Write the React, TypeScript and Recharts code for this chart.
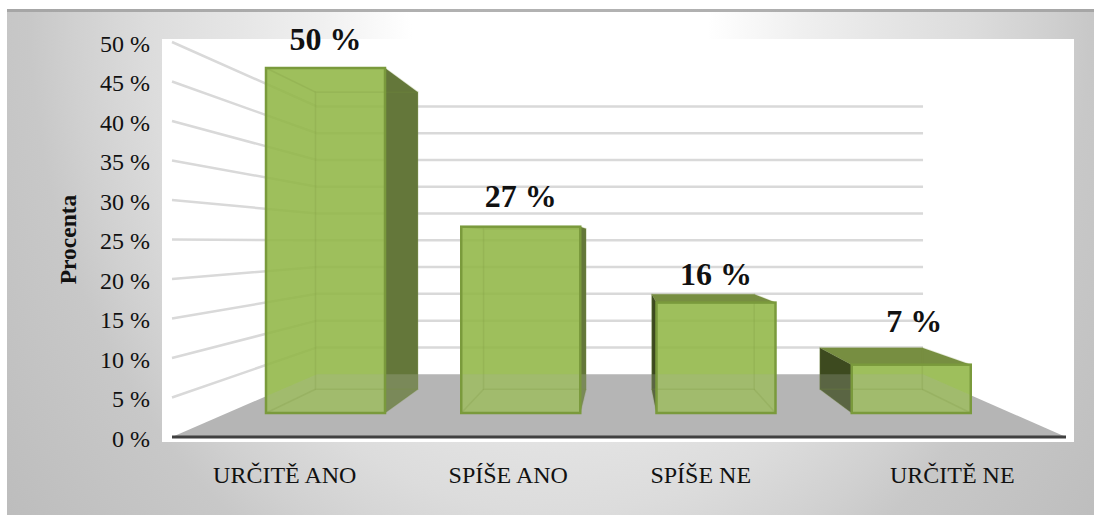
import { Bar, CartesianGrid, ComposedChart, LabelList, Line, XAxis, YAxis } from "recharts";

const CATEGORIES = ["URČITĚ ANO", "SPÍŠE ANO", "SPÍŠE NE", "URČITĚ NE"];
const PERCENT = [50, 27, 16, 7];
const Y_TICKS = [0, 5, 10, 15, 20, 25, 30, 35, 40, 45, 50];

const rows = CATEGORIES.map((name, i) => ({ name, percent: PERCENT[i] }));

const SERIF = "'Liberation Serif', serif";
const INK = "#111111";

// plot box, px
const PLOT_TOP = 42;
const PLOT_BOTTOM = 437;
const PLOT_LEFT = 172;
const PLOT_RIGHT = 1066;

// 3D look: everything recedes towards one vanishing point
const VP_X = 622;
const VP_Y = 242;
const WALL_DEPTH = 0.322;
const BAR_DEPTH = 0.139;

// the bars stand further back than the axis, so they get a smaller scale (6.9px per %, zero at y=413)
const BAR_DOMAIN = [-(PLOT_BOTTOM - 413) / 6.9, (413 - PLOT_TOP) / 6.9];

const px = (x: number, depth: number) => x + depth * (VP_X - x);
const py = (y: number, depth: number) => y + depth * (VP_Y - y);
const pts = (list: number[][]) => list.map((p) => p.join(",")).join(" ");

const FLOOR = [
  [PLOT_LEFT, PLOT_BOTTOM],
  [px(PLOT_LEFT, WALL_DEPTH), py(PLOT_BOTTOM, WALL_DEPTH)],
  [px(PLOT_RIGHT, WALL_DEPTH), py(PLOT_BOTTOM, WALL_DEPTH)],
  [PLOT_RIGHT, PLOT_BOTTOM]
];

function WallLine({ y1 }: any) {
  if (Math.abs(y1 - PLOT_BOTTOM) < 1) {
    return <polygon points={pts(FLOOR)} fill="#b5b5b5" />;
  }
  const backX1 = px(PLOT_LEFT, WALL_DEPTH);
  const backX2 = px(PLOT_RIGHT, WALL_DEPTH);
  const backY = py(y1, WALL_DEPTH);
  return (
    <polyline
      points={pts([[PLOT_LEFT, y1], [backX1, backY], [backX2, backY]])}
      fill="none"
      stroke="#d9d9d9"
      strokeWidth={2.5}
    />
  );
}

function Box3D({ x, y, width, height, index }: any) {
  const x2 = x + width;
  const y2 = y + height;
  const bx1 = px(x, BAR_DEPTH);
  const bx2 = px(x2, BAR_DEPTH);
  const by1 = py(y, BAR_DEPTH);
  const by2 = py(y2, BAR_DEPTH);
  const leftSide = [[bx1, by1], [x, y], [x, y2], [bx1, by2]];
  const rightSide = [[x2, y], [bx2, by1], [bx2, by2], [x2, y2]];
  const topFace = [[x, y], [x2, y], [bx2, by1], [bx1, by1]];
  const edge = "#7a9a3c";
  const inner = "rgba(118,146,60,0.2)";
  return (
    <g>
      <clipPath id={`box-${index}`}>
        <rect x={x} y={y} width={width} height={height} />
        {bx1 < x && <polygon points={pts(leftSide)} />}
        {bx2 > x2 && <polygon points={pts(rightSide)} />}
      </clipPath>
      {by1 < y && <polygon points={pts(topFace)} fill="#778e41" />}
      {bx1 < x && <polygon points={pts(leftSide)} fill="#3d4a1f" />}
      {bx2 > x2 && <polygon points={pts(rightSide)} fill="#64773a" />}
      <rect x={x} y={y} width={width} height={height} fill="#91b646" fillOpacity={0.88} />
      <polygon points={pts(FLOOR)} fill="#d4d4d8" fillOpacity={0.2} clipPath={`url(#box-${index})`} />
      <rect x={bx1} y={by1} width={bx2 - bx1} height={by2 - by1} fill="none" stroke={inner} strokeWidth={1.5} />
      <path
        d={`M${x},${y}L${bx1},${by1}M${x2},${y}L${bx2},${by1}M${x},${y2}L${bx1},${by2}M${x2},${y2}L${bx2},${by2}`}
        stroke={inner}
        strokeWidth={1.5}
        fill="none"
      />
      <rect x={x} y={y} width={width} height={height} fill="none" stroke={edge} strokeWidth={2.5} />
    </g>
  );
}

// excel left the third label well off its slot
const LABEL_SHIFT = [1, 1, -30, -2];

function CategoryTick({ x, payload, index }: any) {
  return (
    <text x={x + LABEL_SHIFT[index]} y={483} textAnchor="middle" fontFamily={SERIF} fontSize={24} fill={INK}>
      {payload.value}
    </text>
  );
}

const LABEL_LIFT = [18, 20, 18, 33];
const LABEL_NUDGE = [0, 0, 0, 3];

function PercentLabel({ x, y, width, value, index }: any) {
  return (
    <text
      x={x + width / 2 + LABEL_NUDGE[index]}
      y={y - LABEL_LIFT[index]}
      textAnchor="middle"
      fontFamily={SERIF}
      fontWeight="bold"
      fontSize={32}
      fill={INK}
    >
      {value} %
    </text>
  );
}

export default function App() {
  return (
    <div style={{ position: "absolute", left: 0, top: 0, width: 1094, height: 515, overflow: "hidden", background: "#fff" }}>
      <div
        style={{
          position: "absolute",
          left: 7,
          top: 9,
          width: 1087,
          height: 506,
          borderTop: "3px solid rgba(150,150,150,0.6)",
          boxSizing: "border-box",
          background:
            "radial-gradient(ellipse 530px 640px at 553px 2px, #ffffff 0%, #ffffff 28%, #f0f0f0 45%, #e6e6e6 60%, #dcdcdc 78%, #d0d0d0 92%, #c8c8c8 100%, #bdbdbd 130%)"
        }}
      />
      <div style={{ position: "absolute", left: 162, top: 39, width: 912, height: 403, background: "#fff" }} />
      <div style={{ position: "absolute", left: 0, top: 0 }}>
        <ComposedChart
          width={1094}
          height={515}
          data={rows}
          barCategoryGap={0}
          margin={{ top: PLOT_TOP, right: 1094 - PLOT_RIGHT, bottom: 38, left: 60 }}
        >
          <CartesianGrid
            yAxisId="outer"
            xAxisId="labels"
            vertical={false}
            horizontal={(p: any) => <WallLine key={p.key} {...p} />}
          />
          <XAxis
            xAxisId="labels"
            dataKey="name"
            height={40}
            interval={0}
            tickLine={false}
            axisLine={{ stroke: "#404040", strokeWidth: 3 }}
            tick={<CategoryTick />}
          />
          <XAxis xAxisId="bars" dataKey="name" hide height={0} padding={{ left: 56, right: 57 }} />
          <YAxis
            yAxisId="outer"
            width={112}
            domain={[0, 50]}
            ticks={Y_TICKS}
            interval={0}
            tickFormatter={(v) => `${v} %`}
            axisLine={false}
            tickLine={false}
            tickSize={0}
            tickMargin={22}
            tick={{ fontFamily: SERIF, fontSize: 24, fill: INK, dy: 1 }}
            label={{
              value: "Procenta",
              angle: -90,
              position: "insideLeft",
              offset: 8,
              style: { fontFamily: SERIF, fontSize: 23.5, fontWeight: "bold", fill: INK, textAnchor: "middle" }
            }}
          />
          <YAxis yAxisId="bars" hide width={0} domain={BAR_DOMAIN} allowDataOverflow />
          {/* invisible, only keeps the outer axis alive so its ticks are generated */}
          <Line
            xAxisId="labels"
            yAxisId="outer"
            dataKey="percent"
            stroke="none"
            dot={false}
            activeDot={false}
            legendType="none"
            isAnimationActive={false}
          />
          <Bar
            xAxisId="bars"
            yAxisId="bars"
            dataKey="percent"
            barSize={119}
            shape={<Box3D />}
            isAnimationActive={false}
          >
            <LabelList dataKey="percent" content={<PercentLabel />} />
          </Bar>
        </ComposedChart>
      </div>
    </div>
  );
}
